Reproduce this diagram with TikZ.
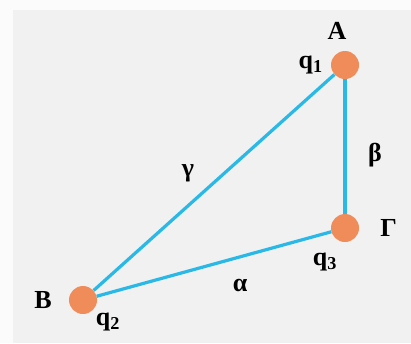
\documentclass[tikz,border=0pt]{standalone}
\usepackage{fontspec}
\setmainfont{Liberation Serif}
\usepackage{xcolor}
\usetikzlibrary{positioning}

\definecolor{chargeorange}{HTML}{F08C5A}
\definecolor{rodblue}{HTML}{2AB8E6}
\definecolor{panelbg}{HTML}{F1F1F1}
\definecolor{outerbg}{HTML}{FBFBFB}

\begin{document}
\begin{tikzpicture}[x=1pt, y=-1pt,
    charge/.style={circle, fill=chargeorange, minimum size=28pt, inner sep=0pt},
    rod/.style={draw=rodblue, line width=3.2pt},
    lbl/.style={font=\fontsize{26}{28}\selectfont\bfseries, inner sep=1pt}
]
    % Background panel
    \fill[outerbg] (0,0) rectangle (411,343);
    \fill[panelbg] (13,10) rectangle (411,343);
    \useasboundingbox (0,0) rectangle (411,343);

    % Charges
    \node [charge] (A) at (345,65) {};
    \node [charge] (G) at (345,228) {};
    \node [charge] (B) at (83,300) {};

    % Vertex labels
    \node [lbl, above=10pt of A, xshift=-8pt] (labA) {A};
    \node [lbl, left=7pt of A] (q1) {q\textsubscript{1}};
    \node [lbl, right=20pt of G] (labG) {Γ};
    \node [lbl, below=10pt of G, xshift=-20pt] (q3) {q\textsubscript{3}};
    \node [lbl, left=16pt of B] (labB) {B};
    \node [lbl, below=-2pt of B, xshift=25pt] (q2) {q\textsubscript{2}};

    % Sides
    \path [rod] (A) -- node[lbl, midway, xshift=-26pt, yshift=9pt] {γ} (B);
    \path [rod] (A) -- node[lbl, midway, xshift=30pt, yshift=-9pt] {β} (G);
    \path [rod] (B) -- node[lbl, midway, xshift=26pt, yshift=-21pt] {α} (G);
\end{tikzpicture}
\end{document}
